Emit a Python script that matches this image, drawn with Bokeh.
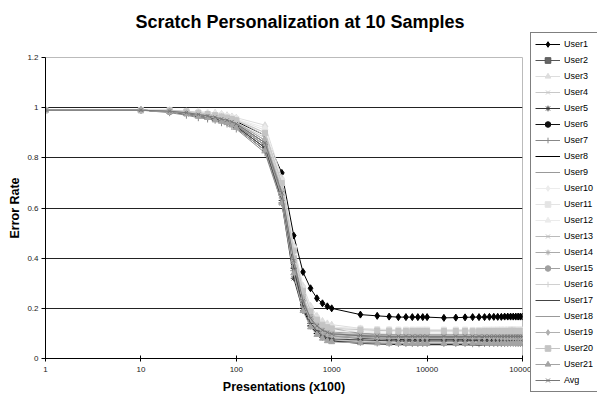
from bokeh.plotting import figure
from bokeh.models import Legend, LegendItem, FixedTicker, PrintfTickFormatter, LogAxis
from bokeh.embed import file_html
from bokeh.resources import INLINE

TITLE = "Scratch Personalization at 10 Samples"
X_LABEL = "Presentations (x100)"
Y_LABEL = "Error Rate"

presentations = [1, 10, 20, 30, 40, 50, 60, 70, 80, 90, 100,
                 200, 300, 400, 500, 600, 700, 800, 900, 1000,
                 2000, 3000, 4000, 5000, 6000, 7000, 8000, 9000, 10000,
                 15000, 20000, 25000, 30000, 35000, 40000, 45000, 50000, 55000,
                 60000, 65000, 70000, 75000, 80000, 85000, 90000, 95000, 100000]

x_ticks = [1, 10, 100, 1000, 10000, 100000]
y_ticks = [0, 0.2, 0.4, 0.6, 0.8, 1.0, 1.2]

user1 = [0.99, 0.99, 0.985, 0.98, 0.975, 0.97, 0.965, 0.96, 0.955, 0.95, 0.945,
         0.89, 0.74, 0.49, 0.345, 0.28, 0.24, 0.22, 0.208, 0.20,
         0.175, 0.17, 0.167, 0.165, 0.165, 0.165, 0.165, 0.165, 0.165,
         0.162, 0.163, 0.164, 0.165, 0.165, 0.165, 0.166, 0.166, 0.166,
         0.166, 0.167, 0.167, 0.167, 0.167, 0.167, 0.167, 0.167, 0.167]
user2 = [0.99, 0.99, 0.985, 0.98, 0.97, 0.965, 0.96, 0.955, 0.95, 0.94, 0.935,
         0.86, 0.66, 0.40, 0.24, 0.17, 0.14, 0.13, 0.125, 0.12,
         0.10, 0.095, 0.093, 0.092, 0.091, 0.09, 0.09, 0.09, 0.09,
         0.09, 0.09, 0.09, 0.089, 0.089, 0.09, 0.09, 0.09, 0.09,
         0.091, 0.091, 0.09, 0.09, 0.09, 0.09, 0.09, 0.09, 0.09]
user3 = [0.99, 0.99, 0.99, 0.985, 0.985, 0.98, 0.98, 0.975, 0.97, 0.965, 0.96,
         0.93, 0.72, 0.45, 0.29, 0.21, 0.17, 0.15, 0.14, 0.135,
         0.12, 0.115, 0.113, 0.112, 0.111, 0.11, 0.11, 0.11, 0.11,
         0.11, 0.11, 0.111, 0.111, 0.11, 0.11, 0.11, 0.11, 0.112,
         0.112, 0.11, 0.11, 0.11, 0.11, 0.11, 0.11, 0.11, 0.11]
user4 = [0.99, 0.99, 0.985, 0.98, 0.975, 0.97, 0.965, 0.96, 0.955, 0.95, 0.94,
         0.88, 0.68, 0.40, 0.24, 0.16, 0.12, 0.10, 0.09, 0.085,
         0.075, 0.072, 0.071, 0.07, 0.07, 0.07, 0.07, 0.07, 0.07,
         0.07, 0.07, 0.07, 0.069, 0.069, 0.07, 0.07, 0.07, 0.07,
         0.07, 0.07, 0.071, 0.071, 0.07, 0.07, 0.07, 0.07, 0.07]
user5 = [0.99, 0.99, 0.985, 0.975, 0.97, 0.96, 0.955, 0.95, 0.94, 0.935, 0.925,
         0.84, 0.62, 0.32, 0.19, 0.14, 0.115, 0.10, 0.095, 0.09,
         0.08, 0.078, 0.077, 0.076, 0.075, 0.075, 0.075, 0.075, 0.075,
         0.075, 0.075, 0.075, 0.074, 0.074, 0.075, 0.075, 0.075, 0.075,
         0.075, 0.075, 0.075, 0.076, 0.076, 0.075, 0.075, 0.075, 0.075]
user6 = [0.99, 0.99, 0.985, 0.98, 0.97, 0.965, 0.955, 0.95, 0.945, 0.94, 0.93,
         0.85, 0.65, 0.38, 0.22, 0.16, 0.13, 0.115, 0.105, 0.10,
         0.09, 0.087, 0.086, 0.085, 0.085, 0.085, 0.085, 0.085, 0.085,
         0.085, 0.085, 0.085, 0.084, 0.084, 0.085, 0.085, 0.085, 0.085,
         0.085, 0.086, 0.086, 0.085, 0.085, 0.085, 0.085, 0.085, 0.085]
user7 = [0.99, 0.99, 0.98, 0.97, 0.96, 0.955, 0.95, 0.94, 0.935, 0.925, 0.915,
         0.82, 0.62, 0.35, 0.20, 0.13, 0.10, 0.085, 0.078, 0.072,
         0.065, 0.062, 0.061, 0.06, 0.06, 0.06, 0.06, 0.06, 0.06,
         0.06, 0.06, 0.06, 0.059, 0.059, 0.06, 0.06, 0.06, 0.06,
         0.06, 0.06, 0.06, 0.061, 0.061, 0.06, 0.06, 0.06, 0.06]
user8 = [0.99, 0.99, 0.985, 0.975, 0.965, 0.96, 0.95, 0.945, 0.935, 0.93, 0.92,
         0.83, 0.63, 0.36, 0.20, 0.13, 0.10, 0.085, 0.075, 0.07,
         0.06, 0.058, 0.057, 0.056, 0.055, 0.055, 0.055, 0.055, 0.055,
         0.055, 0.055, 0.055, 0.054, 0.054, 0.055, 0.055, 0.055, 0.055,
         0.055, 0.055, 0.055, 0.055, 0.056, 0.056, 0.055, 0.055, 0.055]
user9 = [0.99, 0.99, 0.985, 0.98, 0.97, 0.965, 0.96, 0.95, 0.945, 0.94, 0.93,
         0.85, 0.64, 0.38, 0.22, 0.15, 0.12, 0.105, 0.095, 0.09,
         0.085, 0.082, 0.081, 0.08, 0.08, 0.08, 0.08, 0.08, 0.08,
         0.08, 0.08, 0.08, 0.079, 0.079, 0.08, 0.08, 0.08, 0.08,
         0.08, 0.081, 0.081, 0.08, 0.08, 0.08, 0.08, 0.08, 0.08]
user10 = [0.99, 0.99, 0.99, 0.985, 0.98, 0.98, 0.975, 0.97, 0.965, 0.96, 0.955,
          0.90, 0.70, 0.43, 0.27, 0.19, 0.15, 0.13, 0.12, 0.115,
          0.11, 0.107, 0.106, 0.105, 0.105, 0.105, 0.105, 0.105, 0.105,
          0.105, 0.105, 0.105, 0.104, 0.104, 0.105, 0.105, 0.105, 0.105,
          0.105, 0.105, 0.106, 0.106, 0.105, 0.105, 0.105, 0.105, 0.105]
user11 = [0.99, 0.99, 0.99, 0.985, 0.98, 0.975, 0.97, 0.97, 0.965, 0.96, 0.955,
          0.91, 0.71, 0.44, 0.28, 0.20, 0.16, 0.14, 0.13, 0.125,
          0.12, 0.117, 0.116, 0.115, 0.115, 0.115, 0.115, 0.115, 0.115,
          0.115, 0.115, 0.115, 0.114, 0.114, 0.115, 0.115, 0.115, 0.115,
          0.115, 0.115, 0.115, 0.116, 0.116, 0.115, 0.115, 0.115, 0.115]
user12 = [0.99, 0.99, 0.99, 0.985, 0.985, 0.98, 0.975, 0.97, 0.965, 0.96, 0.955,
          0.92, 0.70, 0.42, 0.26, 0.18, 0.14, 0.125, 0.115, 0.11,
          0.105, 0.102, 0.101, 0.10, 0.10, 0.10, 0.10, 0.10, 0.10,
          0.10, 0.10, 0.10, 0.099, 0.099, 0.10, 0.10, 0.10, 0.10,
          0.10, 0.10, 0.101, 0.101, 0.10, 0.10, 0.10, 0.10, 0.10]
user13 = [0.99, 0.99, 0.985, 0.98, 0.97, 0.965, 0.96, 0.955, 0.95, 0.945, 0.935,
          0.86, 0.65, 0.37, 0.21, 0.14, 0.105, 0.09, 0.08, 0.075,
          0.07, 0.067, 0.066, 0.065, 0.065, 0.065, 0.065, 0.065, 0.065,
          0.065, 0.065, 0.065, 0.064, 0.064, 0.065, 0.065, 0.065, 0.065,
          0.065, 0.066, 0.066, 0.065, 0.065, 0.065, 0.065, 0.065, 0.065]
user14 = [0.99, 0.99, 0.985, 0.98, 0.975, 0.965, 0.96, 0.955, 0.95, 0.94, 0.935,
          0.85, 0.64, 0.37, 0.22, 0.15, 0.12, 0.10, 0.09, 0.087,
          0.083, 0.081, 0.08, 0.08, 0.08, 0.08, 0.08, 0.08, 0.08,
          0.08, 0.08, 0.081, 0.081, 0.08, 0.08, 0.08, 0.08, 0.08,
          0.079, 0.079, 0.08, 0.08, 0.08, 0.08, 0.08, 0.08, 0.08]
user15 = [0.99, 0.99, 0.985, 0.98, 0.975, 0.97, 0.965, 0.96, 0.955, 0.95, 0.94,
          0.87, 0.67, 0.40, 0.25, 0.17, 0.135, 0.12, 0.11, 0.105,
          0.10, 0.097, 0.096, 0.095, 0.095, 0.095, 0.095, 0.095, 0.095,
          0.095, 0.095, 0.095, 0.094, 0.094, 0.095, 0.095, 0.095, 0.095,
          0.095, 0.095, 0.096, 0.096, 0.095, 0.095, 0.095, 0.095, 0.095]
user16 = [0.99, 0.99, 0.985, 0.985, 0.98, 0.975, 0.97, 0.965, 0.96, 0.955, 0.95,
          0.89, 0.69, 0.41, 0.25, 0.17, 0.13, 0.115, 0.105, 0.10,
          0.095, 0.092, 0.091, 0.09, 0.09, 0.09, 0.09, 0.09, 0.09,
          0.09, 0.09, 0.09, 0.091, 0.091, 0.09, 0.09, 0.09, 0.09,
          0.09, 0.09, 0.09, 0.089, 0.089, 0.09, 0.09, 0.09, 0.09]
user17 = [0.99, 0.99, 0.985, 0.975, 0.97, 0.96, 0.955, 0.945, 0.94, 0.93, 0.925,
          0.84, 0.63, 0.36, 0.21, 0.14, 0.11, 0.09, 0.082, 0.078,
          0.074, 0.072, 0.071, 0.07, 0.07, 0.07, 0.07, 0.07, 0.07,
          0.07, 0.07, 0.07, 0.071, 0.071, 0.07, 0.07, 0.07, 0.07,
          0.07, 0.069, 0.069, 0.07, 0.07, 0.07, 0.07, 0.07, 0.07]
user18 = [0.99, 0.99, 0.985, 0.98, 0.97, 0.965, 0.96, 0.955, 0.945, 0.94, 0.935,
          0.86, 0.65, 0.39, 0.23, 0.16, 0.125, 0.11, 0.10, 0.095,
          0.09, 0.087, 0.086, 0.085, 0.085, 0.085, 0.085, 0.085, 0.085,
          0.085, 0.085, 0.085, 0.085, 0.086, 0.086, 0.085, 0.085, 0.085,
          0.085, 0.085, 0.084, 0.084, 0.085, 0.085, 0.085, 0.085, 0.085]
user19 = [0.99, 0.99, 0.985, 0.98, 0.975, 0.97, 0.965, 0.955, 0.95, 0.945, 0.94,
          0.87, 0.66, 0.39, 0.24, 0.165, 0.13, 0.115, 0.105, 0.10,
          0.095, 0.092, 0.091, 0.09, 0.09, 0.09, 0.09, 0.09, 0.09,
          0.09, 0.09, 0.09, 0.09, 0.091, 0.091, 0.09, 0.09, 0.09,
          0.09, 0.09, 0.09, 0.09, 0.089, 0.089, 0.09, 0.09, 0.09]
user20 = [0.99, 0.99, 0.99, 0.985, 0.98, 0.975, 0.97, 0.965, 0.96, 0.955, 0.95,
          0.90, 0.70, 0.43, 0.27, 0.19, 0.155, 0.135, 0.125, 0.12,
          0.115, 0.112, 0.111, 0.11, 0.11, 0.11, 0.11, 0.11, 0.11,
          0.11, 0.11, 0.11, 0.109, 0.109, 0.11, 0.11, 0.11, 0.11,
          0.11, 0.11, 0.11, 0.111, 0.111, 0.11, 0.11, 0.11, 0.11]
user21 = [0.99, 0.99, 0.985, 0.975, 0.965, 0.96, 0.95, 0.945, 0.94, 0.93, 0.92,
          0.83, 0.62, 0.34, 0.19, 0.125, 0.095, 0.08, 0.07, 0.066,
          0.062, 0.061, 0.06, 0.06, 0.06, 0.06, 0.06, 0.06, 0.06,
          0.06, 0.06, 0.06, 0.06, 0.061, 0.061, 0.06, 0.06, 0.06,
          0.06, 0.06, 0.059, 0.059, 0.06, 0.06, 0.06, 0.06, 0.06]
avg = [0.99, 0.99, 0.986, 0.98, 0.973, 0.967, 0.962, 0.955, 0.95, 0.944, 0.936,
       0.86, 0.66, 0.39, 0.23, 0.16, 0.13, 0.113, 0.104, 0.098,
       0.092, 0.089, 0.088, 0.088, 0.088, 0.088, 0.088, 0.088, 0.088,
       0.088, 0.088, 0.088, 0.088, 0.088, 0.088, 0.088, 0.088, 0.088,
       0.088, 0.088, 0.088, 0.088, 0.088, 0.088, 0.088, 0.088, 0.088]

series_names = ["User1", "User2", "User3", "User4", "User5", "User6", "User7",
                "User8", "User9", "User10", "User11", "User12", "User13", "User14",
                "User15", "User16", "User17", "User18", "User19", "User20", "User21", "Avg"]
series_values = [user1, user2, user3, user4, user5, user6, user7, user8, user9, user10,
                 user11, user12, user13, user14, user15, user16, user17, user18, user19,
                 user20, user21, avg]

# style per series: (line colour, marker, marker size, marker fill)
styles = [
    ("#000000", "diamond", 7, "#000000"),
    ("#555555", "square", 5, "#666666"),
    ("#dddddd", "triangle", 6, "#dddddd"),
    ("#c8c8c8", "x", 5, None),
    ("#333333", "asterisk", 6, None),
    ("#111111", "circle", 5, "#111111"),
    ("#888888", "cross", 7, None),
    ("#000000", "dash", 6, None),
    ("#999999", "dash", 6, None),
    ("#ececec", "diamond", 7, "#ececec"),
    ("#e4e4e4", "square", 5, "#e4e4e4"),
    ("#ebebeb", "triangle", 6, "#ebebeb"),
    ("#bbbbbb", "x", 5, None),
    ("#aaaaaa", "asterisk", 6, None),
    ("#a0a0a0", "circle", 5, "#a0a0a0"),
    ("#d0d0d0", "cross", 7, None),
    ("#444444", "dash", 6, None),
    ("#999999", "dash", 6, None),
    ("#b0b0b0", "diamond", 7, "#b0b0b0"),
    ("#c4c4c4", "square", 5, "#c4c4c4"),
    ("#a4a4a4", "triangle", 6, "#a4a4a4"),
    ("#777777", "x", 5, None),
]

FONT = "Liberation Sans"

p = figure(frame_width=477, frame_height=301, x_axis_type="log",
           x_range=(1, 100000), y_range=(0, 1.2),
           output_backend="svg", toolbar_location=None,
           min_border_left=45, min_border_right=75, min_border_top=57, min_border_bottom=38)
p.background_fill_color = "white"
p.border_fill_color = "white"
p.outline_line_color = "#bbbbbb"

xa = p.below[0]
ya = p.left[0]

# invisible spacer axis between the frame and the title (one hidden tick, blank label)
spacer = LogAxis(ticker=FixedTicker(ticks=[1000]), major_tick_in=0, major_tick_out=23,
                 major_tick_line_color=None, minor_tick_line_color=None,
                 axis_line_color=None, major_label_standoff=0,
                 major_label_text_font_size="1px", major_label_overrides={1000: ""})
p.add_layout(spacer, "above")

p.title.text = TITLE
p.title.text_font = FONT
p.title.text_font_size = "18px"
p.title.text_font_style = "bold"
p.title.text_color = "#000000"
p.title.align = "left"
p.title.offset = 90
p.title.standoff = 6

p.xgrid.visible = False
p.ygrid.ticker = FixedTicker(ticks=y_ticks)
p.ygrid.grid_line_color = "#222222"
p.ygrid.grid_line_width = 1

xa.ticker = FixedTicker(ticks=x_ticks)
xa.formatter = PrintfTickFormatter(format="%d")
ya.ticker = FixedTicker(ticks=y_ticks)
ya.major_label_overrides = {0: "0", 0.2: "0.2", 0.4: "0.4", 0.6: "0.6", 0.8: "0.8", 1.0: "1", 1.2: "1.2"}

for ax in (xa, ya):
    ax.axis_line_color = "#000000"
    ax.major_tick_line_color = "#000000"
    ax.minor_tick_line_color = None
    ax.major_label_text_font = FONT
    ax.major_label_text_font_size = "8px"
    ax.major_label_text_color = "#222222"
    ax.axis_label_text_font = FONT
    ax.axis_label_text_font_size = "12.5px"
    ax.axis_label_text_font_style = "bold"
    ax.axis_label_text_color = "#000000"

xa.axis_label = X_LABEL
xa.major_tick_in = 3
xa.major_tick_out = 3
xa.major_label_standoff = 5
xa.axis_label_standoff = 5
ya.axis_label = Y_LABEL
ya.major_tick_in = 0
ya.major_tick_out = 4
ya.major_label_standoff = 3
ya.axis_label_standoff = 2

items = []
for name, vals, (col, mk, sz, fill) in zip(series_names, series_values, styles):
    lr = p.line(presentations, vals, line_color=col, line_width=1)
    sr = p.scatter(presentations, vals, marker=mk, size=sz, line_color=col,
                   fill_color=fill if fill else col, line_width=1)
    items.append(LegendItem(label=name, renderers=[lr, sr]))

legend = Legend(items=items, location=(8, -34))
legend.border_line_color = "#000000"
legend.border_line_width = 1
legend.background_fill_color = "white"
legend.background_fill_alpha = 1
legend.label_text_font = FONT
legend.label_text_font_size = "9px"
legend.label_text_color = "#000000"
legend.glyph_width = 25
legend.glyph_height = 14
legend.label_height = 14
legend.label_standoff = 4
legend.spacing = 2
legend.padding = 4
legend.margin = 0
legend.title_standoff = 0
legend.title_text_font_size = "1px"
p.add_layout(legend, "right")

open("out.html", "w").write(file_html(p, INLINE))
